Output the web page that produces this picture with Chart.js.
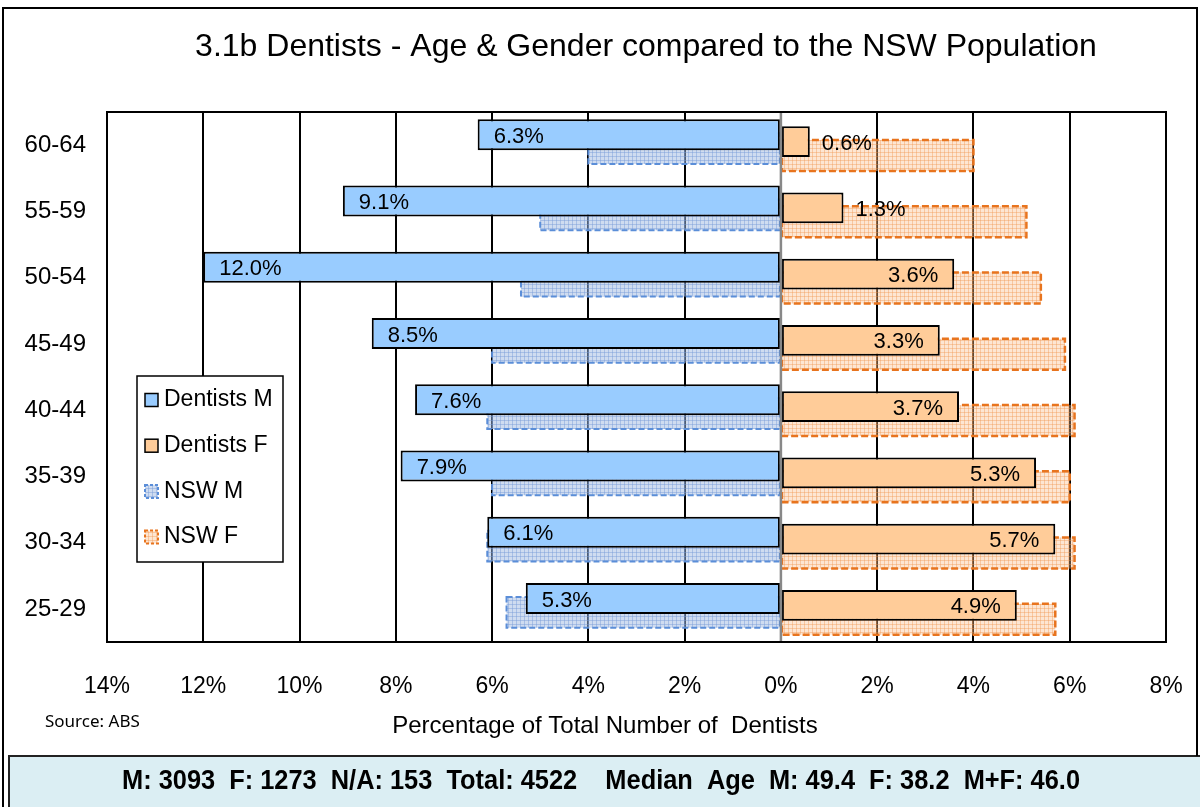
<!DOCTYPE html>
<html>
<head>
<meta charset="utf-8">
<title>3.1b Dentists - Age & Gender compared to the NSW Population</title>
<script src="https://cdn.jsdelivr.net/npm/chart.js@4.4.1/dist/chart.umd.min.js"></script>
<style>
  html, body { margin: 0; padding: 0; background: #fff; }
  #wrap { position: relative; width: 1200px; height: 807px; }
</style>
</head>
<body>
<div id="wrap"><canvas id="pyramid" width="1200" height="807"></canvas></div>
<script>
// Age groups, top to bottom as in the chart
const ageGroups = ['60-64', '55-59', '50-54', '45-49', '40-44', '35-39', '30-34', '25-29'];

// Percentages (males drawn to the left)
const dentistsM = [6.3, 9.1, 12.0, 8.5, 7.6, 7.9, 6.1, 5.3];
const dentistsF = [0.6, 1.3, 3.6, 3.3, 3.7, 5.3, 5.7, 4.9];
const nswM = [4.0, 5.0, 5.4, 6.0, 6.1, 6.0, 6.1, 5.7];
const nswF = [4.0, 5.1, 5.4, 5.9, 6.1, 6.0, 6.1, 5.7];

// Axis range
const xMin = -14;
const xMax = 8;
const xStep = 2;

const titleText = '3.1b Dentists - Age & Gender compared to the NSW Population';
const axisTitle = 'Percentage of Total Number of  Dentists';
const sourceText = 'Source: ABS';
const footerText = 'M: 3093  F: 1273  N/A: 153  Total: 4522    Median  Age  M: 49.4  F: 38.2  M+F: 46.0';

const FONT = "'Liberation Sans', Arial, Helvetica, sans-serif";

// small grid pattern used for the NSW bars
function makeHatch(bg, line) {
  const c = document.createElement('canvas');
  c.width = 4;
  c.height = 4;
  const g = c.getContext('2d');
  g.fillStyle = bg;
  g.fillRect(0, 0, 4, 4);
  g.fillStyle = line;
  g.fillRect(0, 0, 4, 1);
  g.fillRect(0, 0, 1, 4);
  return g.createPattern(c, 'repeat');
}

const hatchM = makeHatch('rgba(160,185,225,0.5)', 'rgba(120,155,215,0.45)');
const hatchF = makeHatch('rgba(250,190,140,0.38)', 'rgba(240,150,80,0.38)');

const datasets = [
  {
    label: 'Dentists M',
    data: dentistsM.map(v => -v),
    backgroundColor: '#99ccff',
    borderColor: '#000',
    borderWidth: 2,
    borderSkipped: false,
    showLabels: true
  },
  {
    label: 'Dentists F',
    data: dentistsF,
    backgroundColor: '#ffcc99',
    borderColor: '#000',
    borderWidth: 2,
    borderSkipped: false,
    showLabels: true
  },
  {
    label: 'NSW M',
    data: nswM.map(v => -v),
    backgroundColor: hatchM,
    borderWidth: 0,
    dashColor: '#5b8ed8',
    dashWidth: 2,
    dashPattern: [6, 3]
  },
  {
    label: 'NSW F',
    data: nswF,
    backgroundColor: hatchF,
    borderWidth: 0,
    dashColor: '#e8741e',
    dashWidth: 2.5,
    dashPattern: [7, 3]
  }
];

// dashed outlines for the NSW bars
const dashedBorders = {
  id: 'dashedBorders',
  afterDatasetDraw(chart, args) {
    const ds = chart.data.datasets[args.index];
    if (!ds.dashColor) return;
    const ctx = chart.ctx;
    ctx.save();
    ctx.strokeStyle = ds.dashColor;
    ctx.lineWidth = ds.dashWidth;
    ctx.setLineDash(ds.dashPattern);
    args.meta.data.forEach(el => {
      const p = el.getProps(['x', 'y', 'base', 'height'], true);
      const left = Math.min(p.x, p.base);
      ctx.strokeRect(left, p.y - p.height / 2, Math.abs(p.x - p.base), p.height);
    });
    ctx.restore();
  }
};

// plot frame, zero line and value labels
const overlays = {
  id: 'overlays',
  afterDatasetsDraw(chart) {
    const ctx = chart.ctx;
    const area = chart.chartArea;
    const xs = chart.scales.x;
    ctx.save();
    // zero line on top of bars
    const x0 = xs.getPixelForValue(0);
    ctx.strokeStyle = '#888';
    ctx.lineWidth = 2.5;
    ctx.beginPath();
    ctx.moveTo(x0, area.top);
    ctx.lineTo(x0, area.bottom);
    ctx.stroke();
    // frame
    ctx.strokeStyle = '#000';
    ctx.lineWidth = 2;
    ctx.strokeRect(area.left, area.top, area.right - area.left, area.bottom - area.top);

    // labels
    ctx.font = '22px ' + FONT;
    ctx.fillStyle = '#000';
    ctx.textBaseline = 'middle';
    chart.data.datasets.forEach((ds, i) => {
      if (!ds.showLabels) return;
      const meta = chart.getDatasetMeta(i);
      meta.data.forEach((el, j) => {
        const p = el.getProps(['x', 'y', 'base'], true);
        const txt = Math.abs(ds.data[j]).toFixed(1) + '%';
        const w = ctx.measureText(txt).width;
        const len = Math.abs(p.x - p.base);
        const neg = p.x < p.base;
        const gap = 16;
        let tx;
        if (len >= w + gap * 2) {
          ctx.textAlign = neg ? 'left' : 'right';
          tx = neg ? p.x + gap : p.x - gap;
        } else {
          ctx.textAlign = neg ? 'right' : 'left';
          tx = neg ? p.x - 12 : p.x + 12;
        }
        ctx.fillText(txt, tx, p.y + 2);
      });
    });
    ctx.restore();
  },
  afterDraw(chart) {
    const ctx = chart.ctx;
    ctx.save();

    // legend box inside the plot
    const lx = 137, ly = 376, lw = 146, lh = 186;
    ctx.fillStyle = '#fff';
    ctx.fillRect(lx, ly, lw, lh);
    ctx.strokeStyle = '#000';
    ctx.lineWidth = 1.5;
    ctx.strokeRect(lx, ly, lw, lh);
    ctx.font = '23px ' + FONT;
    ctx.textBaseline = 'middle';
    ctx.textAlign = 'left';
    chart.data.datasets.forEach((ds, i) => {
      const cy = 400 + i * 45.7;
      const bx = 145, s = 13;
      ctx.save();
      ctx.fillStyle = ds.backgroundColor;
      ctx.fillRect(bx, cy - s / 2, s, s);
      if (ds.dashColor) {
        ctx.strokeStyle = ds.dashColor;
        ctx.lineWidth = 2;
        ctx.setLineDash([3, 2]);
      } else {
        ctx.strokeStyle = '#000';
        ctx.lineWidth = 1.5;
      }
      ctx.strokeRect(bx, cy - s / 2, s, s);
      ctx.restore();
      ctx.fillStyle = '#000';
      ctx.fillText(ds.label, 164, cy);
    });

    // title
    ctx.fillStyle = '#000';
    ctx.font = '32px ' + FONT;
    ctx.textAlign = 'center';
    ctx.fillText(titleText, 646, 47);

    // axis title and source
    ctx.font = '24px ' + FONT;
    ctx.fillText(axisTitle, 605, 726);
    ctx.font = "17px 'Noto Sans', 'Open Sans', sans-serif";
    ctx.textAlign = 'left';
    ctx.fillText(sourceText, 45, 722);

    // footer band
    ctx.fillStyle = '#dbeef3';
    ctx.fillRect(9, 756, 1191, 51);
    ctx.strokeStyle = '#222';
    ctx.lineWidth = 2;
    ctx.beginPath();
    ctx.moveTo(9, 807);
    ctx.lineTo(9, 756);
    ctx.lineTo(1200, 756);
    ctx.stroke();
    ctx.fillStyle = '#000';
    ctx.font = "bold 27px 'Liberation Sans Narrow', 'Arial Narrow', " + FONT;
    ctx.textAlign = 'center';
    const fw = ctx.measureText(footerText).width;
    const target = 958;
    ctx.save();
    ctx.translate(601, 782);
    ctx.scale(target / fw, 1);
    ctx.fillText(footerText, 0, 0);
    ctx.restore();

    // outer frame
    ctx.strokeStyle = '#000';
    ctx.lineWidth = 2;
    ctx.beginPath();
    ctx.moveTo(3, 807);
    ctx.lineTo(3, 8);
    ctx.lineTo(1197, 8);
    ctx.lineTo(1197, 756);
    ctx.stroke();
    ctx.restore();
  }
};

const ctx = document.getElementById('pyramid').getContext('2d');
new Chart(ctx, {
  type: 'bar',
  data: {
    labels: ageGroups,
    datasets: datasets
  },
  options: {
    indexAxis: 'y',
    responsive: false,
    animation: false,
    categoryPercentage: 0.42,
    barPercentage: 4.45,
    layout: {
      padding: { top: 112, right: 34, bottom: 105, left: 0 }
    },
    plugins: {
      legend: { display: false },
      tooltip: { enabled: false },
      title: { display: false }
    },
    scales: {
      x: {
        min: xMin,
        max: xMax,
        afterFit: function(scale) {
          scale.height = 60;
          scale.paddingLeft = 0;
          scale.paddingRight = 0;
        },
        grid: {
          color: c => (c.tick && c.tick.value === 0 ? '#888' : '#000'),
          lineWidth: 2,
          drawTicks: false
        },
        border: { display: true, color: '#000', width: 2 },
        ticks: {
          stepSize: xStep,
          padding: 31,
          maxRotation: 0,
          color: '#000',
          font: { family: FONT, size: 23 },
          callback: v => Math.abs(v) + '%'
        }
      },
      y: {
        afterFit: function(scale) { scale.width = 107; },
        grid: { display: false, drawTicks: false },
        border: { display: true, color: '#000', width: 2 },
        ticks: {
          padding: 21,
          color: '#000',
          font: { family: FONT, size: 24 }
        }
      }
    }
  },
  plugins: [dashedBorders, overlays]
});
</script>
</body>
</html>
